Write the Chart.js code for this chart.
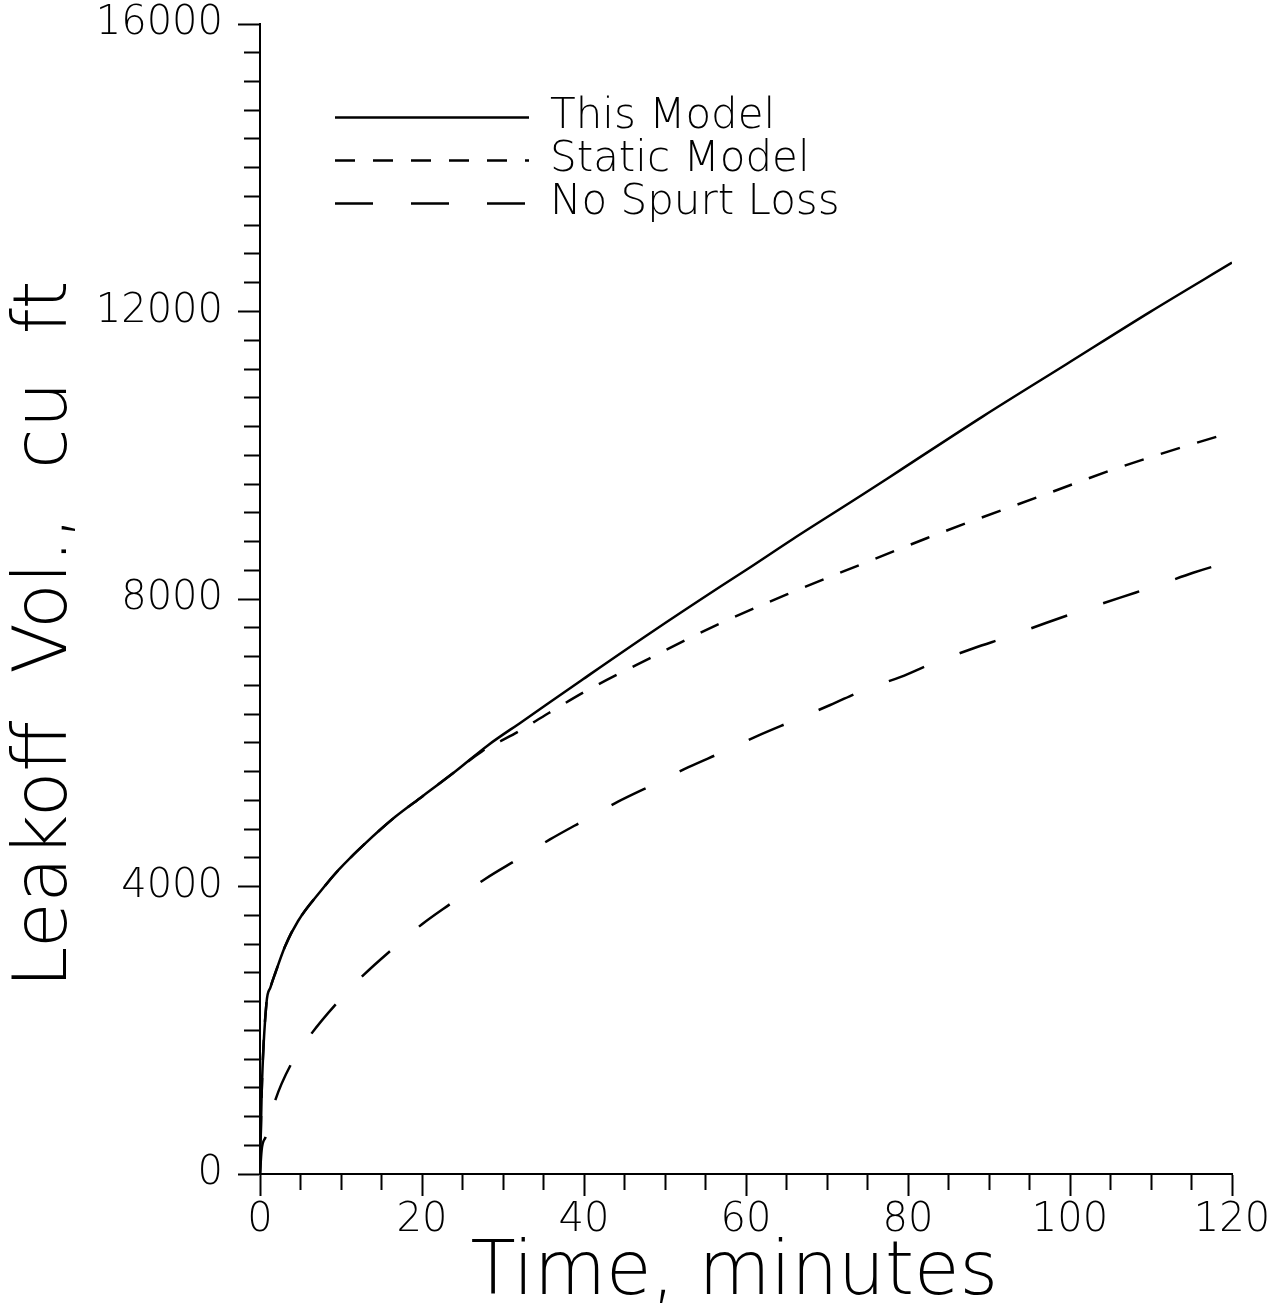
<!DOCTYPE html>
<html>
<head>
<meta charset="utf-8">
<script src="https://cdn.jsdelivr.net/npm/chart.js@4.4.0/dist/chart.umd.min.js"></script>
<style>
html,body{margin:0;padding:0;background:#fff;}
canvas{display:block;}
</style>
</head>
<body>
<canvas id="c" width="1282" height="1315"></canvas>
<script>
// ---- data ----
const seriesNames = ['This Model', 'Static Model', 'No Spurt Loss'];

const thisModelTime = [0, 0.2, 0.8, 1.3, 1.9, 3.1, 4.7, 7.6, 9.7, 13.0, 16.7, 20.0, 24.1, 28.2, 32.3, 39.7, 48.1, 56.8, 60.1, 65.8, 74.5, 79.0, 89.3, 99.6, 109.9, 120];
const thisModelVol  = [0, 1100, 2380, 2600, 2800, 3170, 3520, 3950, 4230, 4600, 4970, 5250, 5600, 5970, 6290, 6870, 7520, 8170, 8410, 8835, 9460, 9790, 10545, 11270, 11995, 12680];

const staticModelTime = [0, 0.2, 0.8, 1.3, 1.9, 3.1, 4.7, 7.6, 9.7, 13.0, 16.7, 20.0, 24.1, 27.4, 31.5, 35.6, 40.5, 48.1, 56.8, 65.4, 74.5, 82.3, 87.2, 96.7, 105.8, 114.8, 120];
const staticModelVol  = [0, 1100, 2380, 2600, 2800, 3170, 3520, 3950, 4230, 4600, 4970, 5250, 5600, 5880, 6130, 6410, 6735, 7175, 7660, 8080, 8495, 8845, 9055, 9445, 9820, 10145, 10320];

const noSpurtTime = [0, 0.2, 0.7, 1.9, 3.8, 6.4, 9.5, 12.8, 16.3, 20.0, 23.9, 27.8, 31.9, 35.8, 40.1, 44.2, 48.6, 52.9, 57.2, 61.5, 65.8, 70.4, 74.8, 79.2, 82.7, 88.1, 92.6, 97.1, 101.6, 106.2, 110.7, 115.2, 120];
const noSpurtVol  = [0, 330, 520, 1030, 1520, 1960, 2380, 2770, 3125, 3475, 3790, 4105, 4385, 4655, 4925, 5180, 5420, 5660, 5875, 6100, 6305, 6525, 6745, 6920, 7090, 7315, 7485, 7670, 7845, 8020, 8185, 8365, 8530];

const xTickLabels = [0, 20, 40, 60, 80, 100, 120];
const yTickLabels = [0, 4000, 8000, 12000, 16000];
const xTitle = 'Time, minutes';
const yTitle = 'Leakoff  Vol.,  cu  ft';

// ---- chart ----
const FONT = "'DejaVu Sans', 'Liberation Sans', sans-serif";
Chart.defaults.font.family = FONT;
Chart.defaults.font.weight = '200';
Chart.defaults.color = '#000';

const toPoints = (ts, vs) => ts.map((t, i) => ({x: t, y: vs[i]}));

const legendPlacer = {
  id: 'legendPlacer',
  afterLayout(chart) {
    const lg = chart.legend;
    if (!lg) return;
    lg.left = 334; lg.top = 95.5;
    lg.right = lg.left + 700;
    lg.bottom = lg.top + 200;
  }
};

const isMajor = (v, list) => list.includes(v);

new Chart(document.getElementById('c'), {
  type: 'line',
  data: {
    datasets: [
      { label: seriesNames[0], data: toPoints(thisModelTime, thisModelVol),
        borderColor: '#000', borderWidth: 2.5, borderDash: [], pointRadius: 0,
        cubicInterpolationMode: 'monotone', fill: false },
      { label: seriesNames[1], data: toPoints(staticModelTime, staticModelVol),
        borderColor: '#000', borderWidth: 2.5, borderDash: [20, 18], pointRadius: 0,
        cubicInterpolationMode: 'monotone', fill: false },
      { label: seriesNames[2], data: toPoints(noSpurtTime, noSpurtVol),
        borderColor: '#000', borderWidth: 2.5, borderDash: [38, 38], pointRadius: 0,
        cubicInterpolationMode: 'monotone', fill: false }
    ]
  },
  options: {
    responsive: false,
    devicePixelRatio: 1,
    animation: false,
    events: [],
    layout: { padding: { top: 24, right: 50, left: 0, bottom: 0 }, autoPadding: false },
    scales: {
      x: {
        type: 'linear', position: 'bottom', min: 0, max: 120,
        afterFit(scale) { scale.height = 141; },
        ticks: {
          stepSize: 5, autoSkip: false, maxRotation: 0, minRotation: 0, padding: 1,
          font: { size: 40, lineHeight: 1.2 },
          callback: (v) => isMajor(v, xTickLabels) ? String(v) : ''
        },
        grid: {
          drawOnChartArea: false, drawTicks: true, tickLength: 22,
          tickColor: '#000', tickWidth: 2,
          tickBorderDash: (ctx) => (ctx.tick && isMajor(ctx.tick.value, xTickLabels)) ? [] : [15, 100]
        },
        border: { display: true, color: '#000', width: 2 },
        title: { display: true, text: xTitle + ' ', font: { size: 74, lineHeight: 1.2 }, padding: { top: 0, bottom: -4 }, color: '#000' }
      },
      y: {
        type: 'linear', position: 'left', min: 0, max: 16000,
        afterFit(scale) { scale.width = 260; scale.paddingTop = 0; scale.paddingBottom = 0; },
        ticks: {
          stepSize: 400, autoSkip: false, padding: 15,
          font: { size: 40, lineHeight: 1.2 },
          callback: (v) => isMajor(v, yTickLabels) ? String(v) : ''
        },
        grid: {
          drawOnChartArea: false, drawTicks: true, tickLength: 22,
          tickColor: '#000', tickWidth: 2,
          tickBorderDash: (ctx) => (ctx.tick && isMajor(ctx.tick.value, yTickLabels)) ? [] : [0, 6, 16, 100]
        },
        border: { display: true, color: '#000', width: 2 },
        title: { display: true, text: yTitle + '   ', font: { size: 74, lineHeight: 1.2 }, padding: { top: 2, bottom: 0 }, color: '#000' }
      }
    },
    plugins: {
      tooltip: { enabled: false },
      legend: {
        display: true, position: 'chartArea', align: 'start',
        labels: {
          usePointStyle: true, pointStyle: 'line', pointStyleWidth: 194,
          padding: 1, color: '#000',
          font: { size: 42, lineHeight: 1.2 },
          generateLabels(chart) {
            const items = Chart.defaults.plugins.legend.labels.generateLabels(chart);
            return items.map((it) => {
              const ds = chart.data.datasets[it.datasetIndex];
              it.lineDash = ds.borderDash || [];
              it.lineWidth = ds.borderWidth;
              it.strokeStyle = ds.borderColor;
              it.pointStyle = 'line';
              return it;
            });
          }
        }
      }
    }
  },
  plugins: [legendPlacer]
});
</script>
</body>
</html>
